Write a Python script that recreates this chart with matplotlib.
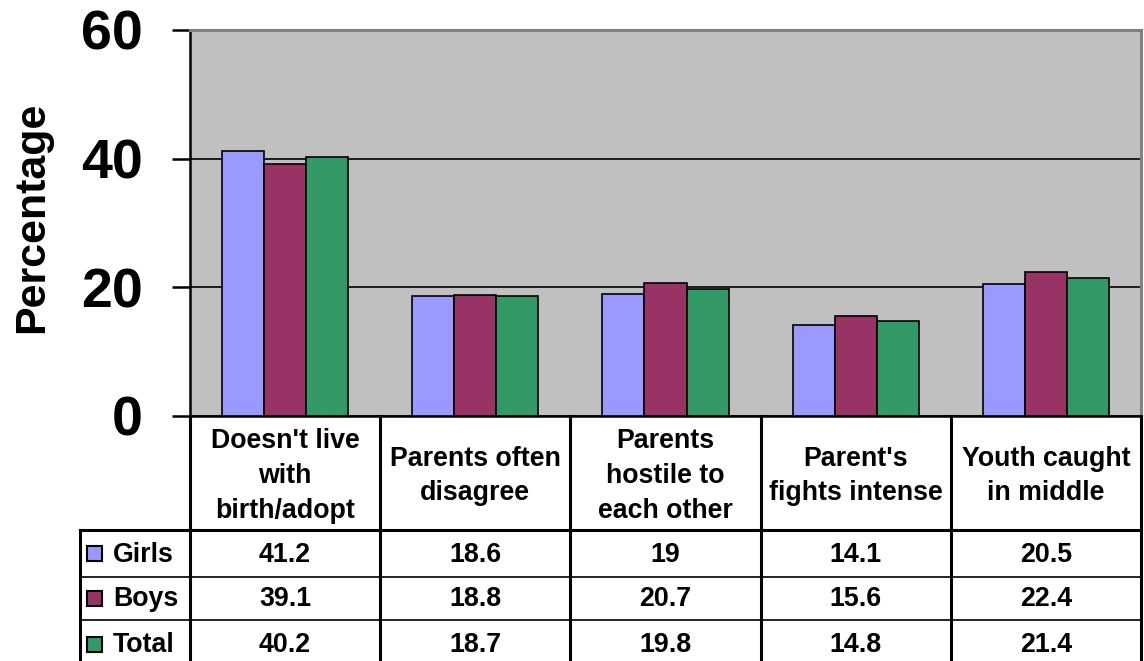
import numpy as np
import matplotlib
matplotlib.use('Agg')
import matplotlib.pyplot as plt
from matplotlib.patches import Rectangle

plt.rcParams['font.family'] = ['Liberation Sans', 'DejaVu Sans']
plt.rcParams['font.weight'] = 'bold'

categories = ["Doesn't live\nwith\nbirth/adopt", "Parents often\ndisagree",
              "Parents\nhostile to\neach other", "Parent's\nfights intense",
              "Youth caught\nin middle"]
series_names = ["Girls", "Boys", "Total"]
girls = [41.2, 18.6, 19, 14.1, 20.5]
boys = [39.1, 18.8, 20.7, 15.6, 22.4]
total = [40.2, 18.7, 19.8, 14.8, 21.4]
colors = ["#9999FF", "#993366", "#339966"]

W, H = 1144, 661
fig = plt.figure(figsize=(W / 100, H / 100), dpi=100)

# chart area (pixel box -> figure fraction)
px_l, px_r, px_t, px_b = 190, 1141, 30, 416
ax = fig.add_axes([px_l / W, 1 - px_b / H, (px_r - px_l) / W, (px_b - px_t) / H])
ax.set_facecolor("#C0C0C0")

x = np.arange(len(categories))
bw = 0.221
for i, vals in enumerate([girls, boys, total]):
    ax.bar(x + (i - 1) * bw, vals, bw, color=colors[i], edgecolor="black",
           linewidth=1.2, zorder=3)

ax.set_xlim(-0.5, len(categories) - 0.5)
ax.set_ylim(0, 60)
ax.set_yticks([0, 20, 40, 60])
ax.set_xticks([])
ax.yaxis.grid(True, color="black", linewidth=1.2, zorder=1)
ax.set_axisbelow(True)
ax.tick_params(axis="y", direction="out", length=13, width=1.8, pad=21,
               labelsize=40, color="black")
for lab in ax.get_yticklabels():
    lab.set_fontweight("bold")
ax.set_ylabel("Percentage", fontsize=31, fontweight="bold")
ax.yaxis.set_label_coords(-0.145, 0.515)
for s in ("top", "right"):
    ax.spines[s].set_color("#808080")
    ax.spines[s].set_linewidth(2.2)
for s in ("left", "bottom"):
    ax.spines[s].set_color("black")
    ax.spines[s].set_linewidth(1.8)

# data table underneath, sharing the category x scale
tab = fig.add_axes([px_l / W, 0, (px_r - px_l) / W, (H - px_b) / H], sharex=ax)
tab.set_ylim(H - px_b, 0)
tab.axis("off")

label_left = -0.5 - (px_l - 80) / ((px_r - px_l) / len(categories))
row_edges = [0, 114, 161, 204, 250]
lw_thick, lw_thin = 2.2, 1.2
fs = 19.3

# column separators
for e in np.arange(len(categories) + 1) - 0.5:
    tab.plot([e, e], [0, H - px_b], color="black", lw=lw_thick, clip_on=False)
tab.plot([label_left, label_left], [row_edges[1], H - px_b], color="black",
         lw=lw_thick, clip_on=False)
tab.plot([label_left, len(categories) - 0.5], [row_edges[1]] * 2, color="black",
         lw=lw_thick, clip_on=False)
for r in row_edges[2:4]:
    tab.plot([label_left, len(categories) - 0.5], [r, r], color="black",
             lw=lw_thin, clip_on=False)

hdr_mid = (row_edges[0] + row_edges[1]) / 2
for i, c in enumerate(categories):
    tab.text(i, hdr_mid + 3, c, ha="center", va="center", fontsize=fs,
             fontweight="bold", linespacing=1.43, clip_on=False)

unit = (px_r - px_l) / len(categories)
for r, (name, vals) in enumerate(zip(series_names, [girls, boys, total])):
    ymid = (row_edges[r + 1] + row_edges[r + 2]) / 2
    if r == 2:
        ymid = row_edges[3] + 24
    key_x = label_left + 7 / unit
    tab.add_patch(Rectangle((key_x, ymid - 7.5), 15 / unit, 15,
                            facecolor=colors[r], edgecolor="black", lw=1.5,
                            clip_on=False))
    tab.text(label_left + 33 / unit, ymid + 1, name, ha="left", va="center",
             fontsize=fs, fontweight="bold", clip_on=False)
    for i, v in enumerate(vals):
        tab.text(i, ymid + 1, f"{v:g}", ha="center", va="center", fontsize=fs,
                 fontweight="bold", clip_on=False)

fig.savefig("out.png", dpi=100)
